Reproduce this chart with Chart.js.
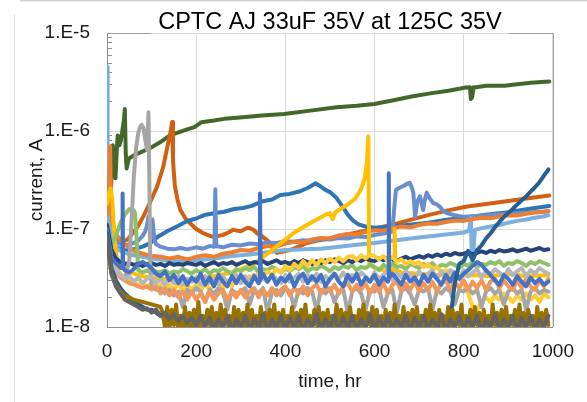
<!DOCTYPE html>
<html>
<head>
<meta charset="utf-8">
<title>CPTC AJ 33uF 35V at 125C 35V</title>
<script src="https://cdn.jsdelivr.net/npm/chart.js@4.4.1/dist/chart.umd.min.js"></script>
<style>
  html, body { margin: 0; padding: 0; background: #fff; }
  canvas { display: block; }
</style>
</head>
<body>
<canvas id="chart" width="587" height="402"></canvas>
<script>
// leakage current of each part, in nA, against hours on test
const titleText = "CPTC AJ 33uF 35V at 125C 35V";
const hourTicks = [0, 200, 400, 600, 800, 1000];
const ampTicks = [1e-8, 1e-7, 1e-6, 1e-5];

const hours10 = [0, 10, 20, 30, 40, 50, 60, 70, 80, 90, 100, 110, 120, 130, 140, 150, 160, 170, 180, 190,
  200, 210, 220, 230, 240, 250, 260, 270, 280, 290, 300, 310, 320, 330, 340, 350, 360, 370, 380, 390,
  400, 410, 420, 430, 440, 450, 460, 470, 480, 490, 500, 510, 520, 530, 540, 550, 560, 570, 580, 590,
  600, 610, 620, 630, 640, 650, 660, 670, 680, 690, 700, 710, 720, 730, 740, 750, 760, 770, 780, 790,
  800, 810, 820, 830, 840, 850, 860, 870, 880, 890, 900, 910, 920, 930, 940, 950, 960, 970, 980, 990];

const navyNa = [110, 62, 50, 46, 44, 45, 43, 44, 42, 44,
  45, 43, 44, 42, 45, 43, 44, 43, 45, 44,
  43, 45, 42, 44, 46, 43, 45, 44, 46, 43,
  45, 47, 44, 46, 45, 47, 44, 46, 48, 45,
  46, 44, 47, 45, 48, 46, 44, 47, 45, 48,
  46, 49, 47, 45, 48, 46, 49, 47, 50, 48,
  47, 50, 48, 51, 49, 47, 50, 52, 49, 51,
  53, 51, 54, 52, 55, 53, 56, 54, 57, 55,
  56, 58, 55, 57, 59, 57, 60, 58, 61, 59,
  60, 62, 59, 61, 63, 60, 62, 64, 61, 62];

const lightGreenNa = [90, 70, 85, 115, 140, 160, 155, 38, 36, 38,
  35, 37, 36, 38, 35, 37, 36, 39, 37, 35,
  38, 36, 39, 35, 38, 37, 40, 37, 35, 39,
  37, 40, 38, 41, 36, 39, 38, 41, 39, 36,
  40, 37, 41, 39, 42, 37, 40, 39, 42, 40,
  37, 41, 39, 42, 40, 43, 38, 41, 40, 43,
  41, 38, 43, 40, 44, 41, 42, 39, 44, 42,
  40, 44, 42, 45, 40, 43, 42, 45, 43, 40,
  44, 42, 46, 41, 44, 43, 46, 44, 47, 42,
  45, 44, 47, 45, 42, 46, 44, 47, 45, 43];
const lightGreenExtra = [[63, 145], [67, 70]];

const grayEarlyHours = [0, 10, 20, 30, 40, 50, 55, 60, 65, 70, 74, 78, 82, 86, 90, 93, 95, 97];
const grayEarlyNa = [80, 45, 36, 32, 30, 48, 120, 330, 660, 950, 1100, 1156, 1070, 800, 640, 1550, 300, 45];
const grayLateNa = [26, 24, 25, 22, 24, 21, 23, 16, 24, 22,
  25, 23, 18, 24, 22, 25, 23, 15, 24, 22, 23, 25, 17, 24, 22, 25, 14, 23, 24, 21,
  25, 23, 16, 24, 22, 25, 23, 15, 24, 22, 25, 18, 23, 24, 14, 23, 25, 22, 15, 24,
  23, 25, 16, 22, 24, 14, 23, 25, 22, 17, 24, 23, 25, 15, 24, 22, 25, 23, 17, 24,
  23, 25, 22, 24, 16, 23, 25, 22, 24, 17, 23, 25, 22, 24, 15, 23, 25, 22, 24, 23];

const paleGrayNa = [85, 45, 38, 34, 31, 33, 29, 32, 28, 31,
  33, 28, 31, 27, 32, 28, 33, 27, 31, 29,
  32, 27, 33, 28, 31, 27, 33, 28, 31, 34,
  28, 33, 29, 34, 28, 32, 29, 34, 31, 28,
  34, 29, 32, 35, 29, 34, 30, 35, 29, 33,
  30, 35, 31, 36, 29, 34, 31, 36, 33, 29,
  36, 31, 34, 37, 30, 36, 32, 37, 34, 31,
  37, 32, 35, 38, 31, 37, 33, 38, 35, 31,
  38, 33, 36, 39, 32, 38, 34, 39, 36, 32,
  39, 34, 37, 40, 33, 38, 35, 40, 37, 35];

const royalNa = [100, 50, 45, 40, 38, 36, 39, 44, 46, 43,
  40, 35, 33, 37, 30, 34, 28, 33, 27, 32,
  29, 35, 27, 32, 26, 34, 29, 26, 33, 28,
  34, 29, 26, 33, 28, 35, 29, 34, 27, 32,
  29, 34, 26, 32, 35, 28, 33, 29, 34, 26,
  31, 35, 29, 26, 34, 29, 35, 27, 32, 29,
  34, 27, 32, 29, 35, 31, 27, 34, 29, 32,
  27, 34, 29, 35, 31, 27, 34, 29, 36, 31,
  35, 38, 42, 46, 43, 38, 34, 30, 27, 34,
  31, 27, 33, 29, 26, 32, 28, 31, 27, 29];
const royalExtra = [[34, 40], [35, 230], [36, 42], [341, 30], [343, 230], [345, 31],
  [631, 31], [632, 370], [633, 32]];

const salmonNa = [90, 45, 36, 32, 30, 28, 27, 26, 25, 26,
  24, 26, 22, 25, 21, 24, 20, 23, 19, 23,
  19, 22, 18, 23, 19, 22, 24, 19, 23, 20,
  24, 20, 23, 25, 20, 24, 21, 25, 21, 24,
  26, 21, 25, 22, 26, 21, 25, 27, 22, 26,
  23, 27, 22, 26, 28, 23, 27, 24, 28, 22,
  27, 23, 28, 22, 27, 29, 23, 28, 24, 29,
  23, 28, 24, 29, 23, 28, 30, 24, 29, 25,
  30, 24, 29, 25, 30, 24, 29, 31, 25, 30,
  26, 24, 30, 25, 31, 26, 24, 30, 26, 31];

const lightGoldNa = [90, 50, 40, 35, 32, 30, 29, 27, 28, 26,
  28, 25, 27, 24, 27, 24, 28, 23, 27, 24,
  27, 23, 28, 24, 27, 29, 25, 30, 26, 31,
  32, 28, 33, 31, 35, 32, 37, 34, 39, 36,
  42, 38, 44, 40, 47, 42, 48, 43, 49, 45,
  50, 46, 51, 47, 52, 53, 48, 54, 50, 55,
  53, 49, 53, 47, 52, 46, 49, 44, 47, 44,
  46, 41, 44, 39, 41, 36, 38, 34, 35, 31,
  28, 22, 16, 15, 18, 20, 18, 21, 19, 22,
  20, 18, 21, 19, 22, 19, 21, 18, 22, 20];

const steelNa = [90, 40, 30, 25, 22, 20, 18, 17, 16, 15, 15, 14, 13, 12.5, 12, 11, 12, 10, 11.5, 9.5,
  11, 9, 10.5, 12, 9, 11, 10, 8.5, 11, 9.5, 10.5, 9, 11, 10, 9, 10.5, 11, 9, 10, 11,
  9.5, 10.5, 9, 11, 10, 9, 10.5, 11, 9.5, 10, 11, 9, 10.5, 10, 9, 11, 10, 9.5, 10.5, 11,
  9.5, 10, 11, 9, 10.5, 10, 11, 9.5, 10, 11, 9.5, 10.5, 10, 11, 9.5, 10.5, 10.5, 12, 28, 44,
  47, 60, 48, 61, 68, 80, 90, 104, 118, 132, 146, 160, 178, 196, 215, 240, 268, 300, 350, 405];

const darkGrayNa = [85, 35, 26, 22, 19, 18, 17, 16, 15, 15.5,
  14, 15, 13, 14, 12, 13.5, 11.5, 13, 11, 12.5,
  10.5, 13, 10, 12.5, 9.5, 12, 10, 13, 9, 12,
  10, 13, 9.5, 12, 10, 13.5, 9, 12, 10, 13,
  9.5, 12.5, 10, 13, 9, 12, 10, 13.5, 9.5, 12,
  10, 13, 9, 12.5, 10, 13, 9.5, 12, 10, 13.5,
  9, 12.5, 10, 13, 9.5, 12, 10, 13, 9, 12.5,
  10, 13, 9.5, 12, 10, 13.5, 9, 12, 10, 13,
  9.5, 12.5, 10, 13, 9, 12, 10, 13.5, 9.5, 12,
  10, 13, 9, 12.5, 10, 13, 9.5, 12, 10, 13];

const brownHours = [0, 10, 20, 30, 40, 50, 60, 70, 80, 90, 100, 110, 120,
  125, 130, 135, 140, 145, 150, 155, 160, 165, 170, 175, 180, 185, 190, 195, 200, 205, 210, 215, 220,
  225, 230, 235, 240, 245, 250, 255, 260, 265, 270, 275, 280, 285, 290, 295, 300, 305, 310, 315, 320,
  325, 330, 335, 340, 345, 350, 355, 360, 365, 370, 375, 380, 385, 390, 395, 400, 405, 410, 415, 420,
  425, 430, 435, 440, 445, 450, 455, 460, 465, 470, 475, 480, 485, 490, 495, 500, 505, 510, 515, 520,
  525, 530, 535, 540, 545, 550, 555, 560, 565, 570, 575, 580, 585, 590, 595, 600, 605, 610, 615, 620,
  625, 630, 635, 640, 645, 650, 655, 660, 665, 670, 675, 680, 685, 690, 695, 700, 705, 710, 715, 720,
  725, 730, 735, 740, 745, 750, 755, 760, 765, 770, 775, 780, 785, 790, 795, 800, 805, 810, 815, 820,
  825, 830, 835, 840, 845, 850, 855, 860, 865, 870, 875, 880, 885, 890, 895, 900, 905, 910, 915, 920,
  925, 930, 935, 940, 945, 950, 955, 960, 965, 970, 975, 980, 985, 990];
const brownNa = [80, 35, 27, 23, 21, 20, 19, 18.5, 18, 17.5, 17, 16.5, 16,
  14, 10, 16, 9.5, 15, 10.5, 17, 9, 13, 10, 16, 9.5, 14, 10.5, 15, 9, 18, 10, 13, 9.5,
  15, 10.5, 16, 9, 14, 10, 17, 9.5, 15, 10.5, 13, 9, 16, 10, 15, 9.5, 14, 10.5, 17, 9,
  15, 10, 13, 9.5, 16, 10.5, 14, 9, 15, 10, 17, 9.5, 14, 10.5, 15, 9, 13, 10, 16, 9.5,
  14, 10.5, 15, 9, 17, 10, 13, 9.5, 15, 10.5, 16, 9, 14, 10, 15, 9.5, 13, 10.5, 17, 9,
  15, 10, 14, 9.5, 16, 10.5, 13, 9, 15, 10, 17, 9.5, 14, 10.5, 16, 9, 15, 10, 13, 9.5,
  15, 10.5, 14, 9, 17, 10, 13, 9.5, 16, 10.5, 14, 9, 15, 10, 16, 9.5, 13, 10.5, 15, 9,
  17, 10, 14, 9.5, 15, 10.5, 13, 9, 16, 10, 15, 9.5, 14, 10.5, 17, 9, 13, 10, 15, 9.5,
  16, 10.5, 14, 9, 15, 10, 13, 9.5, 17, 10.5, 14, 9, 15, 10, 16, 9.5, 13, 10.5, 15, 9,
  17, 10, 14, 9.5, 15, 10.5, 13, 9, 16, 10, 14, 9.5, 15, 10.5];

const goldHours = [0, 4, 8, 12, 15, 18, 22, 30, 40, 60, 80, 100, 130, 160, 200, 240, 280, 320, 340, 360,
  380, 400, 420, 440, 460, 475, 490, 500, 506, 512, 525, 540, 557, 570, 578, 583, 586, 588, 600, 620,
  640, 644, 645, 647, 660, 700, 740, 780, 820, 860, 900, 940, 990];
const goldNa = [180, 230, 260, 200, 110, 70, 50, 42, 38, 35, 33, 32, 31, 30, 31, 33, 36, 42, 48, 56,
  66, 78, 92, 104, 118, 128, 140, 145, 126, 148, 162, 178, 205, 255, 330, 480, 880, 45, 40, 38,
  37, 40, 100, 38, 36, 35, 34, 33, 34, 33, 35, 33, 34];

const orangeHours = [0, 3, 5, 7, 9, 12, 16, 20, 30, 40, 50, 60, 80, 100, 120, 140, 160, 180, 200, 220,
  240, 260, 280, 300, 320, 340, 360, 380, 400, 420, 440, 460, 480, 500, 520, 540, 560, 580, 600, 620,
  640, 660, 680, 700, 720, 740, 760, 780, 800, 820, 840, 860, 880, 900, 920, 940, 960, 980, 990];
const orangeNa = [140, 200, 320, 700, 180, 120, 100, 88, 78, 70, 64, 60, 56, 53, 52, 50, 52, 49, 52, 54,
  52, 56, 58, 61, 60, 64, 67, 66, 71, 74, 73, 78, 81, 80, 86, 89, 88, 93, 97, 96,
  102, 106, 104, 110, 114, 113, 118, 122, 121, 126, 130, 129, 134, 138, 137, 143, 147, 150, 153];

const lightBlueHours = [0, 1, 2, 3, 5, 8, 12, 20, 30, 50, 80, 100, 130, 160, 200, 240, 280, 320, 360, 400,
  440, 480, 520, 560, 600, 640, 680, 720, 760, 800, 812, 816, 818, 821, 825, 840, 860, 880, 900, 920,
  940, 960, 980, 990];
const lightBlueNa = [4500, 3800, 600, 200, 120, 90, 75, 65, 60, 55, 52, 50, 48, 47, 48, 50, 53, 55, 58, 61,
  62, 63, 66, 69, 72, 76, 80, 84, 88, 92, 96, 130, 55, 52, 98, 102, 106, 110, 116, 121,
  125, 130, 135, 138];

const periHours = [0, 5, 10, 20, 30, 40, 50, 60, 70, 80, 86, 90, 93, 96, 99, 102, 106, 110, 120, 135,
  150, 165, 180, 200, 215, 230, 241, 243, 245, 260, 280, 300, 320, 340, 360, 380, 400, 420, 440, 460,
  480, 500, 520, 540, 560, 580, 600, 620, 640, 644, 648, 655, 665, 672, 679, 683, 687, 691, 696, 702,
  709, 713, 717, 724, 731, 740, 747, 755, 762, 780, 800, 830, 860, 890, 920, 950, 970, 990];
const periNa = [150, 100, 85, 75, 70, 68, 70, 72, 76, 85, 95, 110, 135, 120, 90, 125, 80, 70, 66, 63,
  62, 64, 62, 65, 63, 67, 66, 255, 67, 65, 69, 68, 71, 70, 73, 72, 75, 74, 77, 76,
  79, 78, 81, 80, 84, 83, 87, 90, 94, 160, 250, 262, 275, 288, 296, 270, 235, 133, 190, 216,
  156, 200, 235, 205, 185, 178, 168, 152, 145, 138, 133, 136, 139, 142, 145, 147, 149, 151];

const blueHours = [0, 5, 10, 20, 36, 60, 80, 95, 115, 137, 160, 179, 200, 221, 240, 263, 285, 305, 325, 347,
  370, 389, 410, 431, 450, 468, 475, 489, 500, 515, 528, 540, 552, 565, 580, 600, 640, 683, 720, 766,
  800, 850, 900, 934, 960, 992];
const blueNa = [130, 90, 75, 66, 60, 62, 66, 71, 84, 96, 108, 120, 128, 140, 145, 150, 160, 164, 172, 191,
  200, 222, 228, 241, 262, 293, 280, 252, 238, 207, 170, 140, 122, 111, 106, 103, 106, 111, 116, 125,
  130, 140, 148, 157, 164, 172];

const rustHours = [0, 2, 4, 8, 12, 18, 27, 36, 46, 58, 70, 81, 96, 112, 126, 137, 143, 146, 148, 152,
  158, 164, 175, 186, 200, 215, 228, 238, 250, 260, 272, 283, 300, 315, 321, 330, 336, 345, 359, 370,
  381, 395, 410, 430, 448, 470, 500, 522, 550, 580, 610, 641, 680, 725, 765, 808, 850, 892, 940, 992];
const rustNa = [130, 176, 124, 105, 95, 83, 77, 74, 78, 91, 108, 133, 184, 268, 429, 752, 1000, 1235, 500, 280,
  200, 158, 130, 115, 100, 91, 86, 83, 85, 87, 92, 98, 95, 103, 102, 97, 91, 86, 77, 68,
  57, 59, 61, 66, 72, 76, 80, 85, 90, 96, 103, 111, 124, 140, 155, 170, 180, 191, 205, 220];

const forestHours = [0, 5, 8, 11, 13, 16, 19, 22, 24, 28, 31, 34, 38, 40, 42, 44, 49, 61, 80, 95,
  120, 141, 162, 180, 196, 212, 240, 263, 305, 347, 397, 456, 515, 560, 599, 640, 683, 725, 766, 790,
  804, 814, 816, 819, 822, 824, 850, 892, 920, 951, 992];
const forestNa = [150, 250, 207, 420, 714, 380, 329, 650, 902, 714, 800, 975, 1300, 1679, 600, 415, 524, 566, 620, 661,
  772, 902, 975, 1040, 1095, 1230, 1280, 1330, 1383, 1437, 1494, 1614, 1746, 1810, 1885, 2050, 2253, 2420, 2570, 2700,
  2780, 2800, 2120, 2200, 2790, 2780, 2890, 2890, 3000, 3100, 3200];

function points(hours, nA, extra = []) {
  const pts = hours.map((h, i) => ({ x: h, y: nA[i] * 1e-9 }));
  extra.forEach(([h, v]) => pts.push({ x: h, y: v * 1e-9 }));
  return pts.sort((a, b) => a.x - b.x);
}

const series = [
  { label: "P9", color: "#636363", data: points(hours10, darkGrayNa) },
  { label: "P10", color: "#997300", data: points(brownHours, brownNa) },
  { label: "P11", color: "#255e91", data: points(hours10, steelNa) },
  { label: "P1", color: "#4472c4", data: points(hours10, royalNa, royalExtra) },
  { label: "P15", color: "#b7b7b7", data: points(hours10, paleGrayNa) },
  { label: "P14", color: "#f1975a", data: points(hours10, salmonNa) },
  { label: "P3", color: "#a5a5a5", data: points(grayEarlyHours.concat(hours10.slice(10)), grayEarlyNa.concat(grayLateNa)) },
  { label: "P16", color: "#ffcd33", data: points(hours10, lightGoldNa) },
  { label: "P7", color: "#264478", data: points(hours10, navyNa) },
  { label: "P18", color: "#8cc168", data: points(hours10, lightGreenNa, lightGreenExtra) },
  { label: "P4", color: "#ffc000", data: points(goldHours, goldNa) },
  { label: "P2", color: "#ed7d31", data: points(orangeHours, orangeNa) },
  { label: "P17", color: "#7cafdd", data: points(lightBlueHours, lightBlueNa) },
  { label: "P13", color: "#698ed0", data: points(periHours, periNa) },
  { label: "P5", color: "#2e75b6", data: points(blueHours, blueNa) },
  { label: "P20", color: "#d26012", data: points(rustHours, rustNa) },
  { label: "P12", color: "#43682b", data: points(forestHours, forestNa) }
];

const family = "'Liberation Sans', Arial, sans-serif";
const titleSize = 23.5;
const ink = "#1a1a1a";
const axisGray = "#8f8f8f";

// outer chart border, log minor ticks, right and top frame (top split by the title)
const frame = {
  id: "frame",
  beforeDraw(chart) {
    const ctx = chart.ctx;
    ctx.save();
    ctx.lineWidth = 1;
    ctx.strokeStyle = "#dcdcdc";
    ctx.beginPath();
    ctx.moveTo(14.5, 14);
    ctx.lineTo(14.5, 402);
    ctx.stroke();
    ctx.strokeStyle = "#cfcfcf";
    ctx.beginPath();
    ctx.moveTo(20, 0.5);
    ctx.lineTo(587, 0.5);
    ctx.stroke();
    ctx.strokeStyle = "#ececec";
    ctx.beginPath();
    ctx.moveTo(20, 1.5);
    ctx.lineTo(587, 1.5);
    ctx.stroke();
    ctx.restore();
  },
  beforeDatasetsDraw(chart) {
    const { ctx, chartArea: a, scales } = chart;
    ctx.save();
    ctx.lineWidth = 1;
    ctx.strokeStyle = axisGray;
    ctx.beginPath();
    ampTicks.slice(0, -1).forEach(d => {
      for (let k = 2; k <= 9; k++) {
        const y = Math.round(scales.y.getPixelForValue(k * d)) + 0.5;
        ctx.moveTo(a.left, y);
        ctx.lineTo(a.left + 5, y);
      }
    });
    ctx.stroke();

    ctx.font = titleSize + "px " + family;
    const w = ctx.measureText(titleText).width;
    const mid = (a.left + a.right) / 2;
    const top = Math.round(a.top) + 0.5;
    const right = Math.round(a.right) + 0.5;
    ctx.strokeStyle = "#a0a0a0";
    ctx.beginPath();
    ctx.moveTo(a.left, top);
    ctx.lineTo(mid - w / 2 - 7, top);
    ctx.moveTo(mid + w / 2 + 7, top);
    ctx.lineTo(right, top);
    ctx.lineTo(right, a.bottom);
    ctx.stroke();
    ctx.restore();
  }
};

new Chart(document.getElementById("chart"), {
  type: "line",
  data: {
    datasets: series.map(s => ({
      label: s.label,
      data: s.data,
      borderColor: s.color,
      backgroundColor: s.color,
      borderWidth: 4,
      pointRadius: 0,
      borderJoinStyle: "round",
      borderCapStyle: "round",
      tension: 0,
      fill: false
    }))
  },
  options: {
    responsive: false,
    animation: false,
    parsing: false,
    normalized: true,
    layout: { padding: { top: 0, right: 34, bottom: 0, left: 0 } },
    plugins: {
      legend: { display: false },
      tooltip: { enabled: false },
      title: {
        display: true,
        text: titleText,
        fullSize: false,
        color: "#000",
        font: { family, size: titleSize, weight: "normal" },
        padding: { top: 8, bottom: -3.2 }
      }
    },
    scales: {
      x: {
        type: "linear",
        min: 0,
        max: 1000,
        afterFit(s) { s.height = 75; },
        afterBuildTicks(s) { s.ticks = hourTicks.map(v => ({ value: v })); },
        ticks: {
          padding: 13,
          maxRotation: 0,
          color: ink,
          font: { family, size: 19 },
          callback: v => String(v)
        },
        grid: { color: "#d9d9d9", drawTicks: false },
        border: { color: axisGray },
        title: {
          display: true,
          text: "time, hr",
          color: ink,
          font: { family, size: 19 },
          padding: { top: 0, bottom: 9 }
        }
      },
      y: {
        type: "logarithmic",
        min: 1e-8,
        max: 1e-5,
        afterFit(s) { s.width = 107; },
        afterBuildTicks(s) { s.ticks = ampTicks.map(v => ({ value: v })); },
        ticks: {
          padding: 17,
          color: ink,
          font: { family, size: 19 },
          callback: v => "1.E" + Math.round(Math.log10(v))
        },
        grid: { color: "#d9d9d9", drawTicks: false },
        border: { color: axisGray },
        title: {
          display: true,
          text: "current, A",
          color: ink,
          font: { family, size: 19 },
          padding: { top: 25, bottom: 0 }
        }
      }
    }
  },
  plugins: [frame]
});
</script>
</body>
</html>
